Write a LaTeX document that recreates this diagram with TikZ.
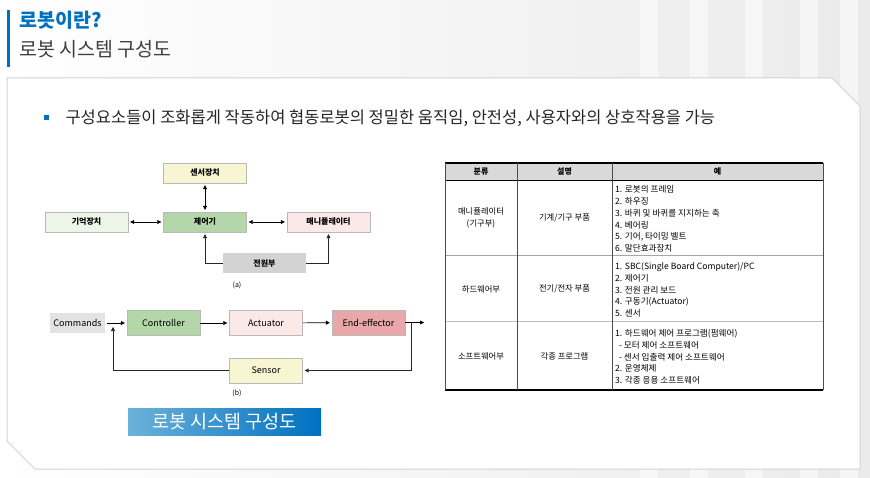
\documentclass[tikz,border=0pt]{standalone}
\usepackage{fontspec}
\setmainfont{Noto Sans CJK KR}
\usetikzlibrary{arrows.meta,positioning}
\definecolor{titleblue}{HTML}{0070C0}
\definecolor{textgray}{HTML}{404040}
\definecolor{boxyellow}{HTML}{F7F5D2}
\definecolor{boxmint}{HTML}{EEF6EA}
\definecolor{boxgreen}{HTML}{B3D7A8}
\definecolor{boxpink}{HTML}{FBE9EA}
\definecolor{boxred}{HTML}{E9A7AA}
\definecolor{boxgray}{HTML}{D3D3D3}
\definecolor{headgray}{HTML}{D9D9D9}
\definecolor{bannerlight}{HTML}{6CB2DA}

\begin{document}
\begin{tikzpicture}[x=1pt,y=-1pt,
    blk/.style={draw=gray!55, minimum width=83pt, minimum height=20pt, inner sep=0pt,
      font=\fontsize{8}{9}\selectfont\bfseries},
    flow/.style={draw=gray!55, minimum width=73pt, minimum height=25pt, inner sep=0pt,
      font=\fontsize{9}{10}\selectfont},
    arr/.style={-{Triangle[length=4pt,width=4pt]}, semithick},
    darr/.style={{Triangle[length=4pt,width=4pt]}-{Triangle[length=4pt,width=4pt]}, semithick},
    cell/.style={font=\fontsize{8.3}{11.7}\selectfont, align=center, inner sep=0pt},
    items/.style={font=\fontsize{8.6}{11.7}\selectfont, align=left, anchor=west, inner sep=0pt}]
  \useasboundingbox (0,0) rectangle (870,478);
  % slide background
  \shade[left color=white, right color=gray!16] (0,0) rectangle (870,478);
  \foreach \x in {640,690,745,800,840} \fill[white, opacity=0.5] (\x,0) rectangle (\x+18,478);
  % title
  \fill[titleblue] (7,10) rectangle (10,67);
  \node[anchor=west, text=titleblue, font=\fontsize{19.5}{20}\selectfont\bfseries] (title) at (16,20) {로봇이란?};
  \node[anchor=west, text=textgray, font=\fontsize{19.5}{20}\selectfont] (subtitle) at (16,49) {로봇 시스템 구성도};
  % card
  \filldraw[fill=white, draw=gray!35, line width=1pt] (7,78) -- (832,78) -- (860,106) -- (860,469)
    -- (35,469) -- (7,441) -- cycle;
  \fill[titleblue] (43.5,115.5) rectangle (48.5,120.5);
  \node[anchor=west, text=black!85, font=\fontsize{16.5}{18}\selectfont] (bullet) at (62,118)
    {구성요소들이 조화롭게 작동하여 협동로봇의 정밀한 움직임, 안전성, 사용자와의 상호작용을 가능};

  % (a)
  \node[blk, fill=boxyellow] (sensdev) at (205,173) {센서장치};
  \node[blk, fill=boxmint] (memory) at (86.5,222) {기억장치};
  \node[blk, fill=boxgreen] (ctrl) at (205,222) {제어기};
  \node[blk, fill=boxpink] (mani) at (328.5,222) {매니퓰레이터};
  \node[blk, fill=boxgray, draw=none] (power) at (264.5,263.5) {전원부};
  \draw[darr, shorten <=2pt, shorten >=2pt] (sensdev) -- (ctrl);
  \draw[darr, shorten <=2pt, shorten >=2pt] (memory) -- (ctrl);
  \draw[darr, shorten <=2pt, shorten >=2pt] (ctrl) -- (mani);
  \draw[arr, gray!30!black, shorten >=2pt] (power.west) -| (ctrl.south);
  \draw[arr, gray!30!black, shorten >=2pt] (power.east) -| (mani.south);
  \node[font=\fontsize{7}{8}\selectfont] (capa) at (237,285) {(a)};

  % (b)
  \node[flow, fill=gray!22, draw=none, minimum width=55pt, minimum height=20pt] (cmd) at (77.5,323) {Commands};
  \node[flow, fill=boxgreen] (contr) at (163.5,323) {Controller};
  \node[flow, fill=boxpink] (act) at (266,323) {Actuator};
  \node[flow, fill=boxred] (eff) at (368.5,322.5) {End-effector};
  \node[flow, fill=boxyellow] (sens) at (266,370.5) {Sensor};
  \coordinate (sum) at (113,323);
  \coordinate (tap) at (411,322.5);
  \coordinate (out) at (424,322.5);
  \draw[arr, shorten <=2pt, shorten >=2pt] (cmd) -- (contr);
  \draw[arr, shorten >=2pt] (contr) -- (act);
  \draw[arr, shorten >=2pt] (act) -- (eff);
  \draw[arr] (eff) -- (out);
  \draw[arr, gray!30!black, shorten >=2pt] (tap) |- (sens.east);
  \draw[arr, gray!30!black, shorten >=4pt] (sens.west) -| (sum);
  \node[font=\fontsize{7}{8}\selectfont] (capb) at (237,393) {(b)};

  % banner
  \shade[left color=bannerlight, right color=titleblue] (128,408) rectangle (321,435);
  \node[text=white, font=\fontsize{18.5}{19}\selectfont] (banner) at (224.5,421.5) {로봇 시스템 구성도};

  % table
  \fill[headgray] (445,163) rectangle (823,180);
  \draw[line width=1.2pt] (445,163) -- (823,163);
  \draw[line width=1.2pt] (445,390) -- (823,390);
  \draw (445,180) -- (823,180);
  \draw[gray!70] (445,255) -- (823,255);
  \draw[gray!50] (445,321) -- (823,321);
  \foreach \x in {445,517,612,823} \draw[gray!60!black] (\x,163) -- (\x,390);
  \node[cell, font=\fontsize{8}{9}\selectfont\bfseries] (h1) at (481,171.5) {분류};
  \node[cell, font=\fontsize{8}{9}\selectfont\bfseries] (h2) at (564.5,171.5) {설명};
  \node[cell, font=\fontsize{8}{9}\selectfont\bfseries] (h3) at (717.5,171.5) {예};
  \node[cell] (c11) at (481,218) {매니퓰레이터\\(기구부)};
  \node[cell] (c12) at (564.5,218) {기계/기구 부품};
  \node[items] (c13) at (615,219) {1. 로봇의 프레임\\2. 하우징\\3. 바퀴 및 바퀴를 지지하는 축\\4. 베어링\\5. 기어, 타이밍 벨트\\6. 말단효과장치};
  \node[cell] (c21) at (481,289) {하드웨어부};
  \node[cell] (c22) at (564.5,289) {전기/전자 부품};
  \node[items] (c23) at (615,290) {1. SBC(Single Board Computer)/PC\\2. 제어기\\3. 전원 관리 보드\\4. 구동기(Actuator)\\5. 센서};
  \node[cell] (c31) at (481,356) {소프트웨어부};
  \node[cell] (c32) at (564.5,356) {각종 프로그램};
  \node[items] (c33) at (615,357) {1. 하드웨어 제어 프로그램(펌웨어)\\\ \ - 모터 제어 소프트웨어\\\ \ - 센서 입출력 제어 소프트웨어\\2. 운영체제\\3. 각종 응용 소프트웨어};
\end{tikzpicture}
\end{document}
